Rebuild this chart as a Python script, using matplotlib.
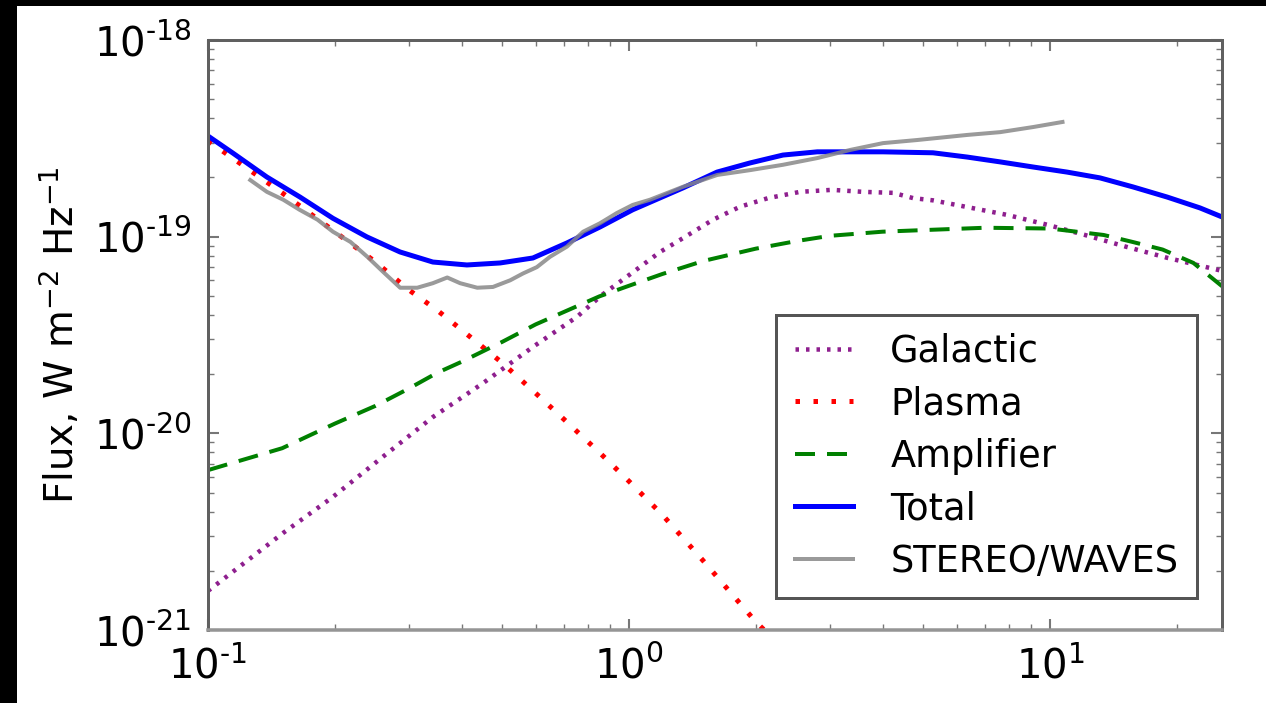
import numpy as np
import matplotlib
matplotlib.use("Agg")
import matplotlib.pyplot as plt
from matplotlib.patches import Rectangle
from matplotlib.ticker import FuncFormatter, NullFormatter

# frequency (MHz) / flux (W m^-2 Hz^-1), one pair per curve
galactic_freq = [0.1, 0.151, 0.198, 0.26, 0.342, 0.45, 0.591, 0.752, 0.863,
                 1.016, 1.185, 1.358, 1.583, 1.835, 2.138, 2.547, 3.034,
                 3.595, 4.24, 4.73, 5.27, 7.91, 9.84, 12.1, 15.2, 19.0, 25.6]
galactic = [1.58e-21, 3.12e-21, 4.75e-21, 7.59e-21, 1.21e-20, 1.80e-20,
            2.75e-20, 3.91e-20, 5.06e-20, 6.54e-20, 8.36e-20, 9.97e-20,
            1.22e-19, 1.42e-19, 1.57e-19, 1.69e-19, 1.73e-19, 1.69e-19,
            1.67e-19, 1.57e-19, 1.53e-19, 1.29e-19, 1.15e-19, 1.02e-19,
            8.87e-20, 7.8e-20, 6.7e-20]

plasma_freq = [0.1, 0.15, 0.2, 0.25, 0.3, 0.35, 0.4, 0.5, 0.6, 0.7, 0.85, 1.0,
               1.2, 1.5, 2.0, 2.5, 3.0]
plasma = [3.07e-19, 1.67e-19, 1.06e-19, 7.43e-20, 5.36e-20, 4.23e-20, 3.36e-20,
          2.28e-20, 1.60e-20, 1.18e-20, 8.0e-21, 5.7e-21, 3.85e-21, 2.25e-21,
          1.10e-21, 6.9e-22, 4.7e-22]

amp_freq = [0.1, 0.15, 0.2, 0.25, 0.3, 0.35, 0.4, 0.5, 0.6, 0.7, 0.85, 1.0,
            1.2, 1.5, 2.0, 2.5, 3.0, 4.0, 5.0, 7.0, 10.0, 13.4, 15.7, 18.5,
            21.9, 25.6]
amplifier = [6.5e-21, 8.4e-21, 1.12e-20, 1.38e-20, 1.69e-20, 2.03e-20, 2.31e-20,
             2.92e-20, 3.58e-20, 4.14e-20, 4.97e-20, 5.63e-20, 6.46e-20,
             7.52e-20, 8.69e-20, 9.5e-20, 1.01e-19, 1.06e-19, 1.08e-19,
             1.11e-19, 1.10e-19, 1.02e-19, 9.4e-20, 8.6e-20, 7.35e-20, 5.6e-20]

total_freq = [0.1, 0.1146, 0.138, 0.1654, 0.198, 0.2385, 0.2858, 0.342, 0.412,
              0.494, 0.591, 0.712, 0.853, 1.02, 1.343, 1.618, 1.937, 2.32,
              2.80, 3.35, 4.01, 5.27, 6.35, 7.61, 9.12, 10.97, 13.14, 15.74,
              18.97, 22.7, 25.6]
total = [3.25e-19, 2.66e-19, 2.01e-19, 1.59e-19, 1.24e-19, 9.97e-20, 8.36e-20,
         7.43e-20, 7.18e-20, 7.35e-20, 7.79e-20, 9.29e-20, 1.12e-19, 1.37e-19,
         1.77e-19, 2.13e-19, 2.37e-19, 2.60e-19, 2.70e-19, 2.70e-19, 2.70e-19,
         2.67e-19, 2.54e-19, 2.40e-19, 2.26e-19, 2.13e-19, 1.99e-19, 1.79e-19,
         1.59e-19, 1.40e-19, 1.26e-19]

stereo_freq = [0.126, 0.138, 0.151, 0.165, 0.182, 0.198, 0.218, 0.239, 0.261,
               0.286, 0.314, 0.342, 0.370, 0.397, 0.436, 0.475, 0.522, 0.560,
               0.604, 0.649, 0.712, 0.778, 0.853, 0.936, 1.02, 1.12, 1.34,
               1.62, 1.94, 2.32, 2.80, 3.35, 4.01, 4.83, 6.35, 7.61, 9.12, 10.7]
stereo = [1.94e-19, 1.69e-19, 1.54e-19, 1.37e-19, 1.22e-19, 1.06e-19, 9.4e-20,
          7.9e-20, 6.6e-20, 5.5e-20, 5.5e-20, 5.8e-20, 6.2e-20, 5.8e-20,
          5.5e-20, 5.55e-20, 6.0e-20, 6.5e-20, 7.0e-20, 7.9e-20, 8.9e-20,
          1.06e-19, 1.17e-19, 1.32e-19, 1.45e-19, 1.54e-19, 1.79e-19,
          2.06e-19, 2.18e-19, 2.32e-19, 2.51e-19, 2.76e-19, 2.99e-19,
          3.10e-19, 3.29e-19, 3.40e-19, 3.61e-19, 3.83e-19]

xticks = [0.1, 1.0, 10.0]
yticks = [1e-21, 1e-20, 1e-19, 1e-18]

plt.rcParams['lines.scale_dashes'] = False
plt.rcParams['font.family'] = 'DejaVu Sans'
plt.rcParams['mathtext.default'] = 'regular'

PX = 0.72  # points per pixel at dpi 100


def pow10(v, pos):
    # old-style labels: short hyphen in the exponent
    e = int(round(np.log10(v)))
    if e < 0:
        return r'$10^{\text{-}%d}$' % -e
    return r'$10^{%d}$' % e


fig = plt.figure(figsize=(12.66, 7.03), dpi=100, facecolor='black')
fig.patches.append(Rectangle((17 / 1266, 0), 1 - 17 / 1266, 1 - 6 / 703,
                             transform=fig.transFigure, facecolor='white',
                             edgecolor='none', zorder=-1))
ax = fig.add_axes([208 / 1266, 73 / 703, 1014 / 1266, 590 / 703])

ax.plot(galactic_freq, galactic, color='#8e1f8e', lw=4.5 * PX,
        dashes=(3.5 * PX, 7 * PX), label='Galactic')
ax.plot(plasma_freq, plasma, color='red', lw=5 * PX,
        dashes=(4.5 * PX, 13.5 * PX), label='Plasma')
ax.plot(amp_freq, amplifier, color='green', lw=4 * PX,
        dashes=(20 * PX, 12 * PX), label='Amplifier')
ax.plot(total_freq, total, color='blue', lw=5 * PX, label='Total')
ax.plot(stereo_freq, stereo, color='#888888', lw=4 * PX, alpha=0.85,
        label='STEREO/WAVES')

ax.set_xscale('log')
ax.set_yscale('log')
ax.set_xticks(xticks)
ax.set_yticks(yticks)
ax.set_xlim(0.1, 25.6)
ax.set_ylim(1e-21, 1e-18)
ax.xaxis.set_major_formatter(FuncFormatter(pow10))
ax.yaxis.set_major_formatter(FuncFormatter(pow10))
ax.xaxis.set_minor_formatter(NullFormatter())
ax.yaxis.set_minor_formatter(NullFormatter())

ax.set_ylabel('Flux, W m$^{-2}$ Hz$^{-1}$', fontsize=28, labelpad=8)
ax.tick_params(which='both', direction='in', top=True, right=True,
               labelsize=29, color='#777777')
ax.tick_params(which='major', length=8, width=1.5, pad=12)
ax.tick_params(which='minor', length=4, width=1)

for s in ['left', 'top', 'right']:
    ax.spines[s].set_color('#606060')
    ax.spines[s].set_linewidth(3 * PX)
ax.spines['bottom'].set_color('#959595')
ax.spines['bottom'].set_linewidth(3.5 * PX)

leg = ax.legend(loc='lower right', bbox_to_anchor=(0.975, 0.054),
                borderaxespad=0, fontsize=26.5, fancybox=False, framealpha=1,
                handlelength=1.6, handletextpad=1.0, labelspacing=0.42,
                borderpad=0.5)
leg.get_frame().set_edgecolor('#555555')
leg.get_frame().set_linewidth(3 * PX)

fig.savefig('out.png', dpi=100, facecolor=fig.get_facecolor())
